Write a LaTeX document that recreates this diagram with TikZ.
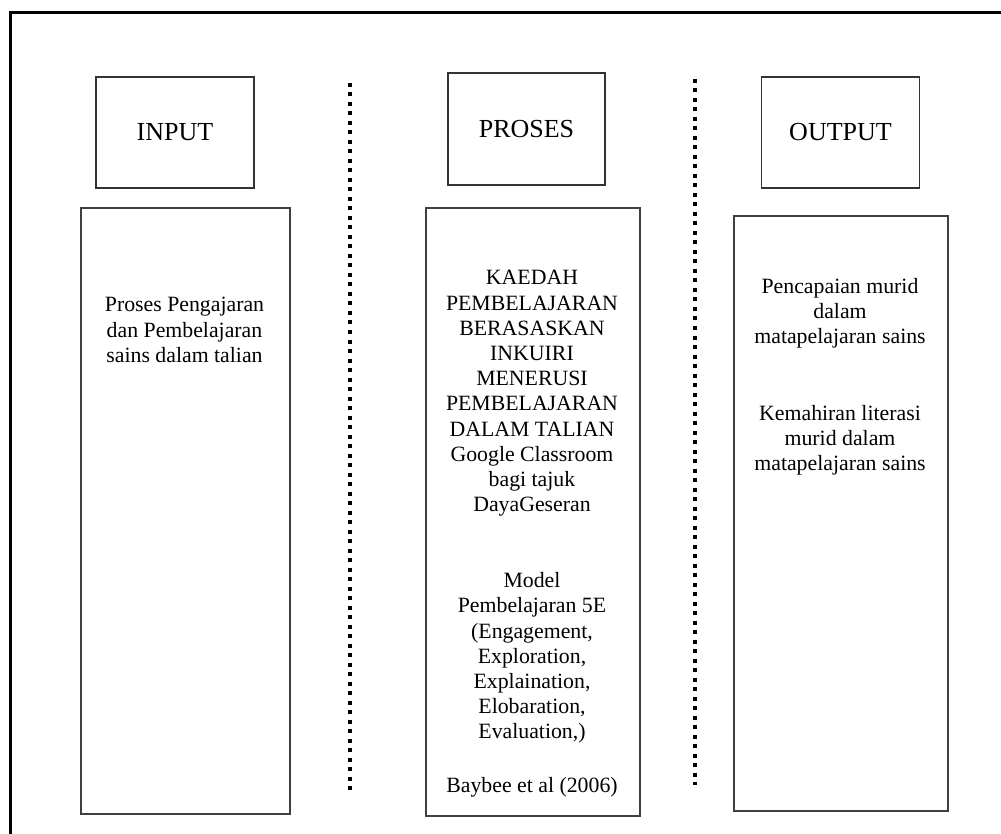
\documentclass[tikz,border=0pt]{standalone}
\usepackage{fontspec}
\setmainfont{Liberation Serif}
\usetikzlibrary{positioning}
\newcommand{\headfont}{\fontsize{26}{30}\selectfont}
\newcommand{\colfont}{\fontsize{21.8}{25.2}\selectfont}
\tikzset{
  headbox/.style={draw=black!80,line width=1.6pt,inner sep=0pt,
    minimum width=158pt,minimum height=111pt,font=\headfont},
  colbox/.style={draw=black!75,line width=1.6pt,inner sep=0pt,anchor=north west},
  coltext/.style={align=center,inner sep=0pt,font=\colfont},
  sepline/.style={line width=4pt,dash pattern=on 4pt off 5.5pt},
  frameline/.style={line width=3pt}
}

\begin{document}
\begin{tikzpicture}[x=1pt,y=-1pt]

\useasboundingbox (0,0) rectangle (1001,834);

\draw[frameline] (10,834)--(10,13)--(1001,13);

% headers
\node[headbox] (in) at (175,132.5) {INPUT};
\node[headbox,minimum width=157pt,minimum height=112pt] (pro) at (526.5,129) {PROSES};
\node[headbox] (out) at (840.5,132.5) {OUTPUT};

% separators
\draw[sepline] (350,83)--(350,790);
\draw[sepline] (695,79)--(695,785);

% columns
\node[colbox,minimum width=209pt,minimum height=606pt] (inbox) at (80,207) {};
\node[colbox,minimum width=214pt,minimum height=608pt] (probox) at (425,207) {};
\node[colbox,minimum width=214pt,minimum height=595pt] (outbox) at (733,215) {};

\node[coltext] (in1) at (184.5,330) {Proses Pengajaran\\dan Pembelajaran\\sains dalam talian};

\node[coltext] (pro1) at (532,393.5) {KAEDAH\\PEMBELAJARAN\\BERASASKAN\\INKUIRI\\MENERUSI\\PEMBELAJARAN\\DALAM TALIAN\\Google Classroom\\bagi tajuk\\DayaGeseran};
\node[coltext] (pro2) at (532,658) {Model\\Pembelajaran 5E\\(Engagement,\\Exploration,\\Explaination,\\Elobaration,\\Evaluation,)};
\node[coltext] (pro3) at (532,787) {Baybee et al (2006)};

\node[coltext] (out1) at (840,313) {Pencapaian murid\\dalam\\matapelajaran sains};
\node[coltext] (out2) at (840,440) {Kemahiran literasi\\murid dalam\\matapelajaran sains};

\end{tikzpicture}
\end{document}
